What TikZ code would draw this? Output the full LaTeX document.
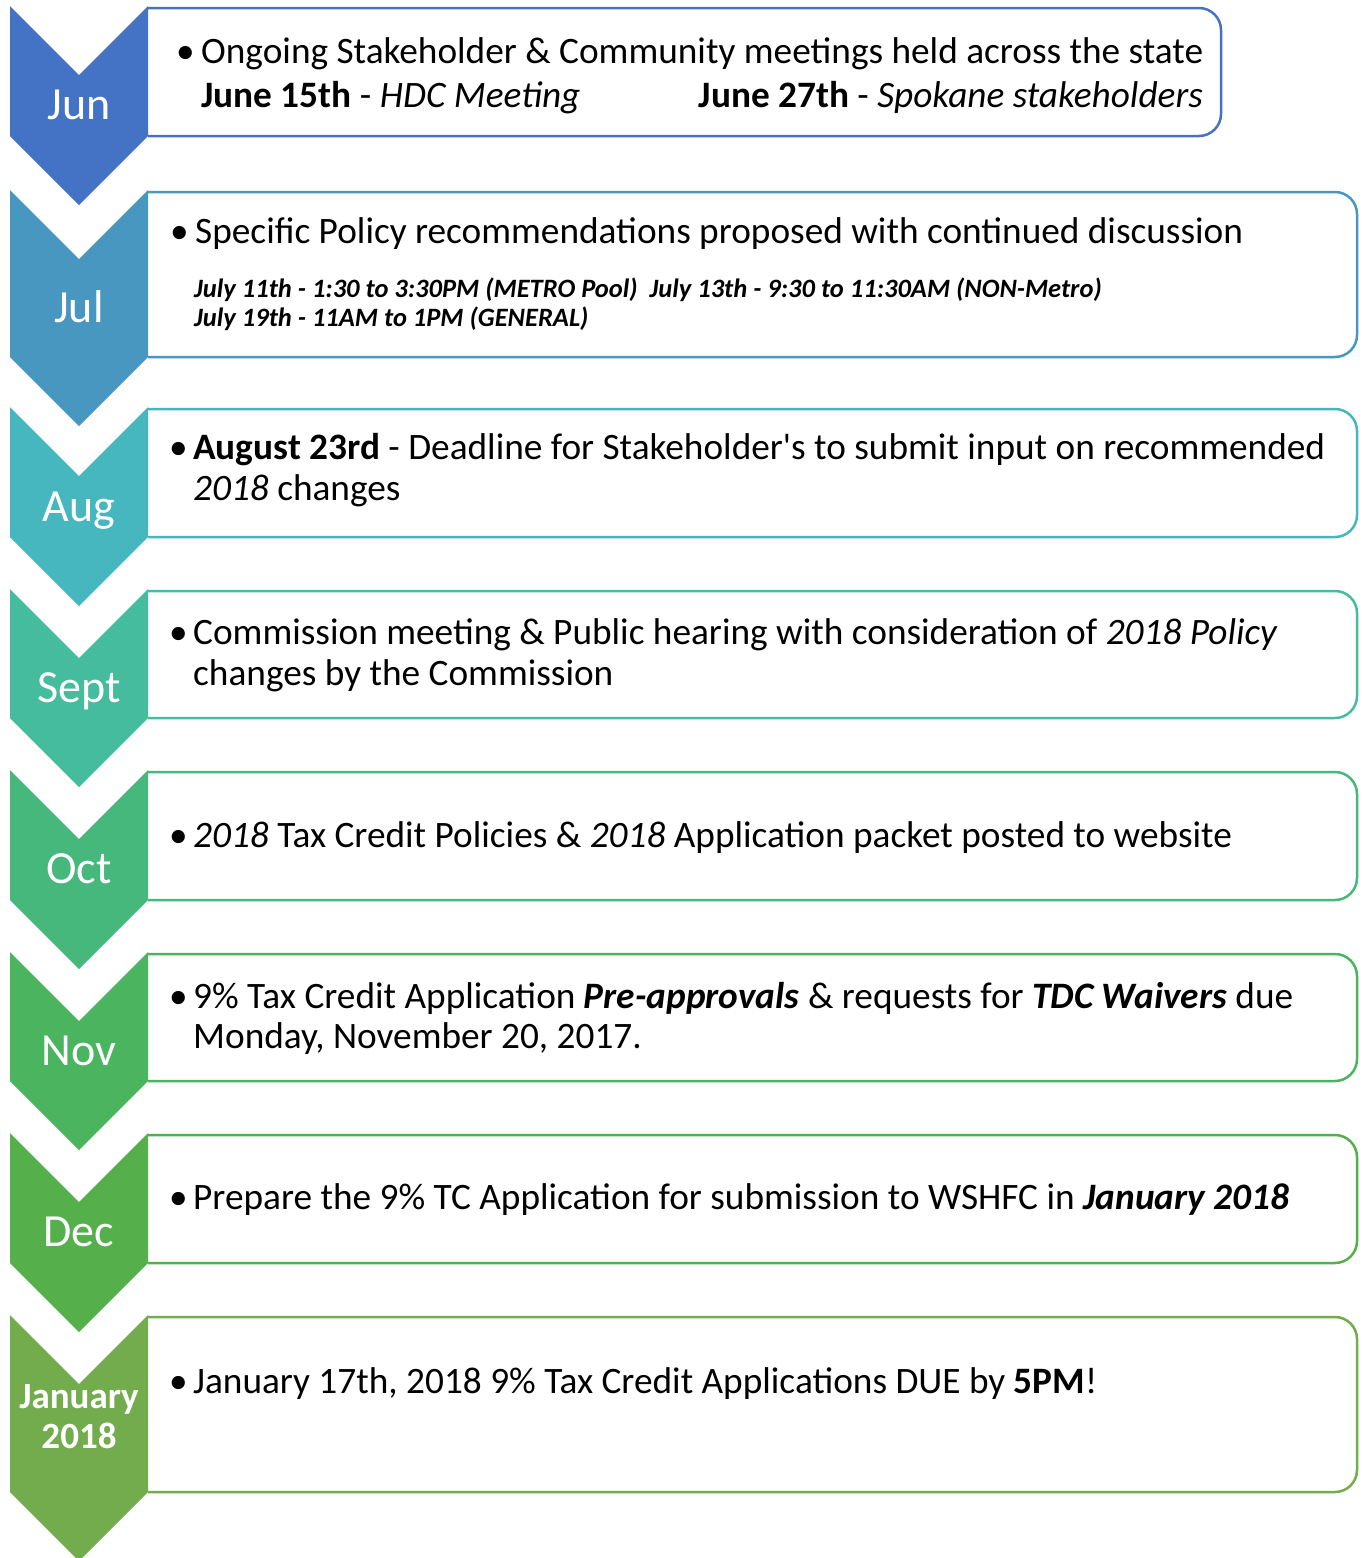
\documentclass[tikz,border=0pt]{standalone}
\usepackage{fontspec}
\setmainfont{Carlito}
\definecolor{TLJun}{HTML}{4472C4}
\definecolor{TLJul}{HTML}{4797C1}
\definecolor{TLAug}{HTML}{46B6BF}
\definecolor{TLSept}{HTML}{46BC9F}
\definecolor{TLOct}{HTML}{47B87C}
\definecolor{TLNov}{HTML}{4BB45E}
\definecolor{TLDec}{HTML}{55B04B}
\definecolor{TLJan}{HTML}{72AC4D}
% chevron + open box: colour, top, side bottom, box right
\newcommand{\monthshape}[4]{%
  \draw[#1,line width=2.5pt,rounded corners=22pt]
    (148,#2+2) -- (#4,#2+2) -- (#4,#3) -- (148,#3);
  \fill[#1] (10,#2) -- (79,#2+69) -- (148,#2) -- (148,#3)
    -- (79,#3+69) -- (10,#3) -- cycle;
}

\begin{document}
\begin{tikzpicture}[
      x=1pt,y=-1pt,
      item/.style={anchor=base west,inner sep=0pt,font=\fontsize{37.3}{41}\selectfont},
      dot/.style={item},
      slot/.style={anchor=base west,inner sep=0pt,
        font=\fontsize{26.5}{29}\selectfont\bfseries\itshape},
      month/.style={anchor=base,inner sep=0pt,text=white,
        font=\fontsize{46}{50}\selectfont}
    ]
    \useasboundingbox (0,0) rectangle (1361,1558);

    % Jun
    \monthshape{TLJun}{6}{136}{1221}
    \node[month] (jun) at (79,119) {Jun};
    \node[dot] (junbul) at (176,63) {•};
    \node[item] (juntxt) at (201,63)
      {Ongoing Stakeholder \& Community meetings held across the state};
    \node[item] (junhdc) at (201,107) {\textbf{June 15th} - \textit{HDC Meeting}};
    \node[item,anchor=base east] (junspk) at (1203,107)
      {\textbf{June 27th} - \textit{Spokane stakeholders}};

    % Jul
    \monthshape{TLJul}{190}{357}{1357}
    \node[month] (jul) at (79,322) {Jul};
    \node[dot] (julbul) at (170,243) {•};
    \node[item] (jultxt) at (195,243)
      {Specific Policy recommendations proposed with continued discussion};
    \node[slot] (julslota) at (194,297)
      {July 11th - 1:30 to 3:30PM (METRO Pool)\ \ July 13th - 9:30 to 11:30AM (NON-Metro)};
    \node[slot] (julslotb) at (194,326) {July 19th - 11AM to 1PM (GENERAL)};

    % Aug
    \monthshape{TLAug}{407}{537}{1357}
    \node[month] (aug) at (79,521) {Aug};
    \node[dot] (augbul) at (169,459) {•};
    \node[item] (augtxt) at (193,459)
      {\textbf{August 23rd} - Deadline for Stakeholder\textquotesingle s to submit input on recommended};
    \node[item] (augtxtb) at (193,500) {\textit{2018} changes};

    % Sept
    \monthshape{TLSept}{589}{718}{1357}
    \node[month] (sept) at (79,702) {Sept};
    \node[dot] (septbul) at (169,644) {•};
    \node[item] (septtxt) at (193,644)
      {Commission meeting \& Public hearing with consideration of \textit{2018 Policy}};
    \node[item] (septtxtb) at (193,685) {changes by the Commission};

    % Oct
    \monthshape{TLOct}{770}{900}{1357}
    \node[month] (oct) at (79,883) {Oct};
    \node[dot] (octbul) at (169,847) {•};
    \node[item] (octtxt) at (193,847)
      {\textit{2018} Tax Credit Policies \& \textit{2018} Application packet posted to website};

    % Nov
    \monthshape{TLNov}{952}{1081}{1357}
    \node[month] (nov) at (79,1065) {Nov};
    \node[dot] (novbul) at (169,1008) {•};
    \node[item] (novtxt) at (193,1008)
      {9\% Tax Credit Application \textbf{\textit{Pre-approvals}} \& requests for \textbf{\textit{TDC Waivers}} due};
    \node[item] (novtxtb) at (193,1048) {Monday, November 20, 2017.};

    % Dec
    \monthshape{TLDec}{1133}{1263}{1357}
    \node[month] (dec) at (79,1246) {Dec};
    \node[dot] (decbul) at (169,1209) {•};
    \node[item] (dectxt) at (193,1209)
      {Prepare the 9\% TC Application for submission to WSHFC in \textbf{\textit{January 2018}}};

    % January 2018
    \monthshape{TLJan}{1315}{1492}{1357}
    \node[month,font=\fontsize{37}{41}\selectfont\bfseries] (jan) at (79,1408) {January};
    \node[month,font=\fontsize{37}{41}\selectfont\bfseries] (janyr) at (79,1448) {2018};
    \node[dot] (janbul) at (169,1393) {•};
    \node[item] (jantxt) at (193,1393)
      {January 17th, 2018 9\% Tax Credit Applications DUE by \textbf{5PM}!};
  \end{tikzpicture}
\end{document}
